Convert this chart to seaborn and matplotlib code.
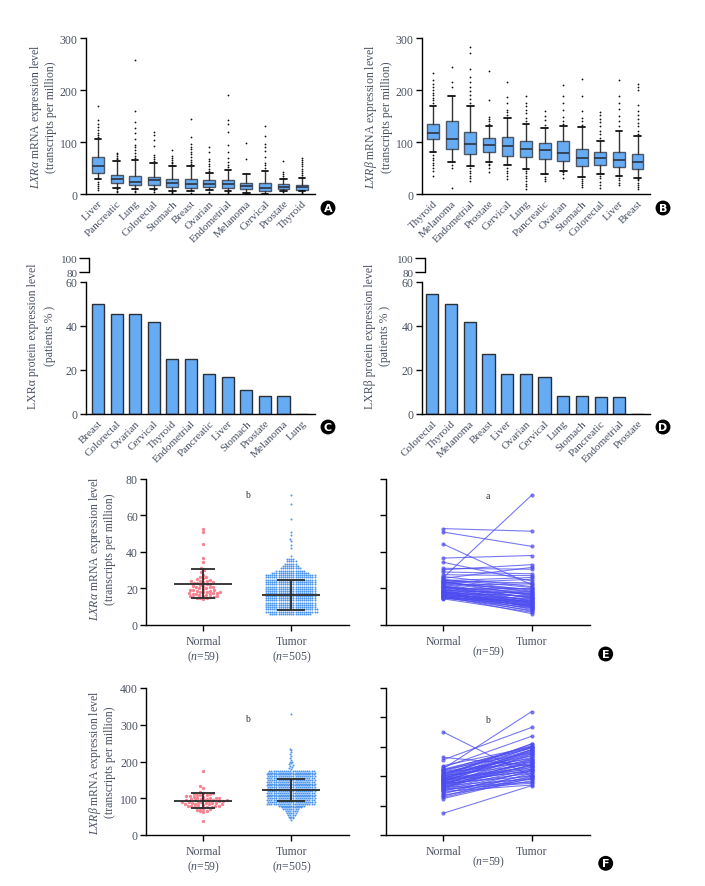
"""
LXR expression figure (panels A-F)
"""
import numpy as np
import pandas as pd
import matplotlib
matplotlib.use('Agg')
import matplotlib.pyplot as plt
import seaborn as sns

sns.set_theme(style='ticks')
plt.rcParams['font.family'] = ['Liberation Serif', 'DejaVu Serif']
plt.rcParams['mathtext.fontset'] = 'custom'
plt.rcParams['mathtext.rm'] = 'Liberation Serif'
plt.rcParams['mathtext.it'] = 'Liberation Serif:italic'

# ---------------- data ----------------
# A: LXRa mRNA box stats
a_cancers = ['Liver', 'Pancreatic', 'Lung', 'Colorectal', 'Stomach', 'Breast', 'Ovarian',
             'Endometrial', 'Melanoma', 'Cervical', 'Prostate', 'Thyroid']
a_q1 = [40, 21, 17, 18, 14, 12, 13, 11, 10, 6, 10, 8]
a_med = [54, 29, 24, 26, 22, 19, 20, 19, 16, 12, 14, 13]
a_q3 = [71, 36, 35, 33, 29, 29, 26, 26, 22, 22, 19, 17]
a_lo = [28, 12, 9, 10, 6, 5, 7, 5, 1, 0, 6, 5]
a_hi = [106, 63, 65, 60, 53, 53, 40, 47, 39, 45, 28, 30]
a_fliers = [
    [7, 11, 15, 20, 24, 110, 114, 118, 123, 128, 135, 143, 169],
    [3, 6, 9, 67, 70, 73, 76, 79],
    [3, 6, 69, 73, 78, 84, 90, 95, 105, 117, 127, 138, 160, 258],
    [4, 7, 63, 67, 71, 75, 93, 103, 113, 119],
    [2, 4, 56, 59, 62, 66, 70, 74, 84],
    [2, 57, 61, 66, 71, 76, 81, 86, 91, 97, 110, 145],
    [2, 4, 44, 48, 53, 58, 63, 68, 80, 90],
    [2, 3, 51, 56, 62, 70, 80, 95, 120, 135, 142, 190],
    [67, 98],
    [50, 55, 60, 72, 82, 90, 96, 112, 130],
    [3, 31, 35, 39, 43, 64],
    [2, 3, 33, 37, 41, 45, 49, 53, 57, 61, 66, 70],
]

# B: LXRb mRNA box stats
b_cancers = ['Thyroid', 'Melanoma', 'Endometrial', 'Prostate', 'Cervical', 'Lung', 'Pancreatic',
             'Ovarian', 'Stomach', 'Colorectal', 'Liver', 'Breast']
b_q1 = [106, 87, 77, 81, 74, 71, 68, 63, 54, 56, 51, 49]
b_med = [117, 106, 97, 94, 93, 86, 85, 78, 69, 69, 65, 61]
b_q3 = [135, 140, 119, 108, 110, 101, 98, 101, 86, 81, 81, 77]
b_lo = [81, 62, 54, 62, 55, 48, 39, 45, 32, 39, 35, 31]
b_hi = [170, 188, 170, 131, 146, 135, 126, 130, 128, 102, 122, 112]
b_fliers = [
    [35, 45, 50, 55, 60, 65, 70, 75, 175, 180, 185, 190, 195, 200, 205, 212, 220, 232],
    [12, 50, 55, 205, 215, 245],
    [25, 30, 35, 40, 45, 50, 175, 182, 190, 198, 205, 215, 225, 240, 272, 283],
    [42, 50, 55, 58, 135, 140, 145, 148, 180, 237],
    [28, 35, 40, 45, 50, 152, 157, 162, 175, 187, 215],
    [10, 15, 20, 25, 30, 35, 40, 45, 140, 147, 155, 162, 170, 175, 188],
    [25, 28, 33, 133, 142, 150, 160],
    [30, 38, 42, 135, 140, 148, 162, 175, 188, 210],
    [13, 17, 21, 25, 28, 133, 140, 147, 160, 188, 222],
    [12, 18, 24, 30, 35, 107, 115, 122, 130, 138, 145, 152, 158],
    [18, 22, 26, 30, 130, 140, 150, 163, 175, 188, 220],
    [10, 14, 18, 22, 26, 28, 115, 122, 130, 137, 145, 152, 160, 172, 200, 205, 212],
]

# C / D: protein expression (patients %)
c_cancers = ['Breast', 'Colorectal', 'Ovarian', 'Cervical', 'Thyroid', 'Endometrial',
             'Pancreatic', 'Liver', 'Stomach', 'Prostate', 'Melanoma', 'Lung']
c_values = [50, 45.5, 45.5, 41.7, 25, 25, 18.2, 16.7, 10.9, 8, 8, 0]
d_cancers = ['Colorectal', 'Thyroid', 'Melanoma', 'Breast', 'Liver', 'Ovarian', 'Cervical',
             'Lung', 'Stomach', 'Pancreatic', 'Endometrial', 'Prostate']
d_values = [54.5, 50, 41.7, 27.3, 18.2, 18.2, 16.7, 8.3, 8.3, 7.7, 7.7, 0]

# E: LXRa normal vs tumor
e_normal = [52.7, 50.8, 44.2, 36.6, 34.3, 31.0, 30.2, 29.0, 27.5, 26.0,
            25.5, 25.0, 24.6, 24.2, 23.8, 23.4, 23.0, 22.6, 22.2, 21.8,
            21.5, 21.2, 20.9, 20.6, 20.3, 20.0, 19.7, 19.4, 19.1, 18.8,
            18.5, 18.3, 18.1, 17.9, 17.7, 17.5, 17.3, 17.1, 16.9, 16.7,
            16.5, 16.3, 16.1, 15.9, 15.7, 15.5, 15.3, 15.1, 14.9, 14.7,
            14.5, 14.3, 22.9, 21.0, 19.0, 24.0, 26.5, 18.0, 23.6]
e_tumor_paired = [51.3, 43.0, 22.0, 38.0, 24.0, 30.5, 33.0, 28.0, 27.0, 71.0,
                  31.5, 20.5, 19.0, 26.0, 16.0, 18.5, 25.0, 17.0, 14.5, 22.5,
                  13.0, 16.5, 12.0, 18.0, 15.0, 11.5, 20.0, 13.5, 10.5, 17.5,
                  12.5, 9.5, 15.5, 11.0, 14.0, 8.5, 16.0, 12.0, 10.0, 13.0,
                  7.5, 11.5, 9.0, 14.5, 6.2, 10.5, 12.5, 8.0, 11.0, 9.5,
                  13.5, 7.0, 19.5, 15.0, 17.0, 23.0, 21.0, 10.0, 18.0]
e_tumor_levels = [6, 7.25, 8.5, 9.75, 11, 12.25, 13.5, 14.75, 16, 17.25, 18.5, 19.75, 21,
                  22.25, 23.5, 24.75, 26, 27.25, 28.5, 29.75, 31, 32.25, 33.5, 34.75, 36]
e_tumor_counts = [20, 25, 25, 24, 24, 24, 24, 24, 24, 24, 24, 24, 24,
                  24, 24, 24, 24, 24, 18, 14, 10, 8, 6, 5, 4]
e_tumor_high = [38, 42, 44, 46, 47, 49, 51, 58, 66, 71]
e_mean = [22.6, 16.3]
e_sd = [8.0, 8.1]

# F: LXRb normal vs tumor
f_normal = [175, 132, 128, 118, 115, 113, 111, 110, 108, 106,
            105, 104, 103, 102, 101, 100, 99, 98, 97, 96,
            96, 95, 94, 93, 92, 92, 91, 90, 89, 88,
            88, 87, 86, 85, 84, 83, 82, 81, 80, 79,
            78, 77, 76, 75, 74, 72, 70, 68, 66, 64,
            62, 100, 95, 90, 85, 80, 108, 112, 37]
f_tumor_paired = [100, 118, 183, 150, 168, 210, 140, 152, 130, 125,
                  148, 145, 135, 155, 120, 142, 138, 128, 132, 115,
                  150, 112, 140, 108, 135, 122, 145, 118, 110, 130,
                  100, 125, 105, 138, 95, 115, 128, 90, 120, 112,
                  88, 108, 98, 102, 85, 95, 110, 92, 105, 100,
                  97, 155, 145, 143, 118, 125, 150, 148, 84]
f_tumor_levels = [40, 45, 50, 55, 60, 65, 70, 75, 80, 85, 90, 95, 100, 105, 110, 115, 120,
                  125, 130, 135, 140, 145, 150, 155, 160, 165, 170, 175]
f_tumor_counts = [1, 2, 3, 4, 5, 6, 8, 10, 13, 23, 23, 23, 23, 23, 23, 23, 23,
                  23, 23, 23, 23, 23, 23, 23, 23, 23, 23, 22]
f_tumor_high = [180, 182, 185, 188, 190, 192, 195, 198, 200, 205, 210, 215, 220, 225,
                232, 235, 330]
f_mean = [93.5, 121.5]
f_sd = [19.5, 30.0]

groups = ['Normal', 'Tumor']

# ---------------- style ----------------
TXT = '#4a5262'
BOX = '#66acf4'
PINK = '#f5838f'
BLUE = '#4d96ee'
LINE = '#4b4bf0'
W, H = 705, 887

fig = plt.figure(figsize=(W / 100, H / 100), dpi=100)


def px_axes(l, t, r, b):
    return fig.add_axes([l / W, 1 - b / H, (r - l) / W, (b - t) / H])


def style_ax(ax, xticks=False, size=8.5):
    for s in ['top', 'right']:
        ax.spines[s].set_visible(False)
    for s in ['left', 'bottom']:
        ax.spines[s].set_linewidth(1.0)
        ax.spines[s].set_color('black')
    ax.tick_params(axis='y', direction='out', length=4, width=1.0, colors='black',
                   labelcolor=TXT, labelsize=size, pad=2)
    ax.tick_params(axis='x', direction='out', length=4 if xticks else 0, width=1.0,
                   colors='black', labelcolor=TXT, labelsize=8.5, pad=3)
    ax.set_xlabel('')
    ax.set_ylabel('')


def panel_tag(x, y, letter):
    fig.text(x / W, 1 - y / H, letter, ha='center', va='center', color='white',
             fontsize=8, fontweight='bold', family='DejaVu Sans',
             bbox=dict(boxstyle='circle,pad=0.22', fc='black', ec='none'))


def ylab(x, y, s, size=8.5):
    fig.text(x / W, 1 - y / H, s, rotation=90, ha='center', va='center',
             color=TXT, fontsize=size)


def box_panel(ax, cats, q1, med, q3, lo, hi, fliers):
    stats = []
    for i in range(len(cats)):
        stats.append(dict(q1=q1[i], med=med[i], q3=q3[i], whislo=lo[i], whishi=hi[i],
                          fliers=fliers[i], label=cats[i]))
    ax.bxp(stats, positions=range(len(cats)), widths=0.64, capwidths=0.36, patch_artist=True,
           boxprops=dict(facecolor=BOX, edgecolor='#4c5666', linewidth=1.0),
           medianprops=dict(color='#2b3340', linewidth=1.2),
           whiskerprops=dict(color='#333', linewidth=1.0),
           capprops=dict(color='#111', linewidth=1.3),
           flierprops=dict(marker='o', markersize=1.3, markerfacecolor='#111',
                           markeredgecolor='none'))
    ax.set_ylim(0, 300)
    ax.set_yticks([0, 100, 200, 300])
    style_ax(ax)
    ax.set_xticks(range(len(cats)))
    ax.set_xticklabels(cats, rotation=45, ha='right', rotation_mode='anchor', fontsize=8)


# A
axA = px_axes(86, 39, 315, 195)
box_panel(axA, a_cancers, a_q1, a_med, a_q3, a_lo, a_hi, a_fliers)
axA.set_xlim(-0.65, 11.7)
ylab(42.5, 117, '$LXR\\alpha$ mRNA expression level\n(transcripts per million)')
panel_tag(328, 209, 'A')

# B
axB = px_axes(422, 39, 650, 195)
box_panel(axB, b_cancers, b_q1, b_med, b_q3, b_lo, b_hi, b_fliers)
axB.set_xlim(-0.6, 11.67)
ylab(378, 117, '$LXR\\beta$ mRNA expression level\n(transcripts per million)')
panel_tag(663, 209, 'B')


# C / D
def bar_panel(rect, top_rect, cats, vals, xlim):
    ax = px_axes(*rect)
    sns.barplot(x=cats, y=vals, color=BOX, saturation=1, width=0.65,
                edgecolor='#2a2f38', linewidth=1.0, ax=ax)
    ax.set_ylim(0, 60)
    ax.set_yticks([0, 20, 40, 60])
    ax.set_xlim(*xlim)
    style_ax(ax)
    ax.set_xticks(range(len(cats)))
    ax.set_xticklabels(cats, rotation=45, ha='right', rotation_mode='anchor', fontsize=8)
    # upper segment of the broken axis
    up = px_axes(*top_rect)
    up.set_ylim(80, 100)
    up.set_yticks([80, 100])
    up.set_xticks([])
    style_ax(up, size=8)
    up.tick_params(axis='y', length=7, pad=1)
    up.spines['bottom'].set_visible(False)
    up.patch.set_alpha(0)
    return ax


axC = bar_panel((86, 282.7, 315, 415), (89, 259.3, 93, 273.3), c_cancers, c_values,
                (-0.65, 11.7))
fig.text(33 / W, 1 - 336 / H, 'LXR\u03b1 protein expression level', rotation=90,
         ha='center', va='center', color=TXT, fontsize=8.5)
fig.text(50 / W, 1 - 336 / H, '(patients % )', rotation=90,
         ha='center', va='center', color=TXT, fontsize=8.5)
panel_tag(328, 428, 'C')

axD = bar_panel((421.7, 282.7, 650, 415), (425, 259.3, 429, 273.3), d_cancers, d_values,
                (-0.57, 11.64))
fig.text(370 / W, 1 - 336 / H, 'LXR\u03b2 protein expression level', rotation=90,
         ha='center', va='center', color=TXT, fontsize=8.5)
fig.text(385 / W, 1 - 336 / H, '(patients % )', rotation=90,
         ha='center', va='center', color=TXT, fontsize=8.5)
panel_tag(663, 428, 'D')


# E / F
def swarm_panel(rect, normal, levels, counts, high, means, sds, ylim, yticks, note_y, note,
                dot):
    ax = px_axes(*rect)
    tumor = np.concatenate([np.repeat(levels, counts), high])
    sns.swarmplot(x=['Normal'] * len(normal), y=normal, order=groups, color=PINK,
                  size=2.4, linewidth=0, ax=ax, zorder=1)
    sns.swarmplot(x=['Tumor'] * len(tumor), y=tumor, order=groups, color=BLUE,
                  size=dot, linewidth=0, ax=ax, zorder=1, warn_thresh=1)
    for i in range(2):
        ax.hlines(means[i], i - 0.33, i + 0.33, color='#2b2b2b', lw=1.3, zorder=3)
        ax.errorbar([i], [means[i]], yerr=[sds[i]], fmt='none', ecolor='#2b2b2b',
                    elinewidth=1.3, capsize=8.5 if i == 0 else 10, capthick=1.3, zorder=3)
    ax.set_ylim(*ylim)
    ax.set_yticks(yticks)
    ax.set_xlim(-0.65, 1.66)
    style_ax(ax, xticks=True)
    ax.set_xticks([0, 1])
    ax.set_xticklabels(['Normal\n($n$=59)', 'Tumor\n($n$=505)'], fontsize=8.5)
    ax.text(0.5, note_y, note, ha='center', va='center', fontsize=7, color='#333')
    return ax


def pair_panel(rect, normal, tumor, ylim, yticks, note_y, note):
    ax = px_axes(*rect)
    n = len(normal)
    df = pd.DataFrame({'pair': list(range(n)) * 2,
                       'x': [0] * n + [1] * n,
                       'value': list(normal) + list(tumor)})
    sns.lineplot(data=df, x='x', y='value', units='pair', estimator=None, color=LINE,
                 lw=0.8, alpha=0.75, marker='o', markersize=3, markeredgewidth=0, ax=ax)
    ax.set_ylim(*ylim)
    ax.set_yticks(yticks)
    ax.set_xlim(-0.65, 1.66)
    style_ax(ax, xticks=True)
    ax.set_yticklabels([])
    ax.set_xticks([0, 1])
    ax.set_xticklabels(groups, fontsize=8.5)
    ax.text(0.5, note_y, note, ha='center', va='center', fontsize=7, color='#333')
    return ax


axE1 = swarm_panel((146.3, 479.7, 349.3, 626), e_normal, e_tumor_levels, e_tumor_counts,
                   e_tumor_high, e_mean, e_sd, (0, 80), [0, 20, 40, 60, 80], 71.2, 'b', 1.45)
ylab(101.5, 549, '$LXR\\alpha$ mRNA expression level\n(transcripts per million)')
axE2 = pair_panel((386, 479.7, 590, 626), e_normal, e_tumor_paired, (0, 80),
                  [0, 20, 40, 60, 80], 71, 'a')
fig.text(488 / W, 1 - 652.7 / H, '($n$=59)', ha='center', va='center', color=TXT, fontsize=8.5)
panel_tag(605.7, 655, 'E')

axF1 = swarm_panel((146.3, 689, 349.3, 836), f_normal, f_tumor_levels, f_tumor_counts,
                   f_tumor_high, f_mean, f_sd, (0, 400), [0, 100, 200, 300, 400], 316, 'b',
                   1.45)
ylab(101.5, 762.5, '$LXR\\beta$ mRNA expression level\n(transcripts per million)')
axF2 = pair_panel((386, 689, 590, 836), f_normal, f_tumor_paired, (0, 250),
                  [0, 50, 100, 150, 200, 250], 197, 'b')
fig.text(488 / W, 1 - 862.7 / H, '($n$=59)', ha='center', va='center', color=TXT, fontsize=8.5)
panel_tag(605.7, 864.3, 'F')

fig.savefig('out.png', dpi=100)
